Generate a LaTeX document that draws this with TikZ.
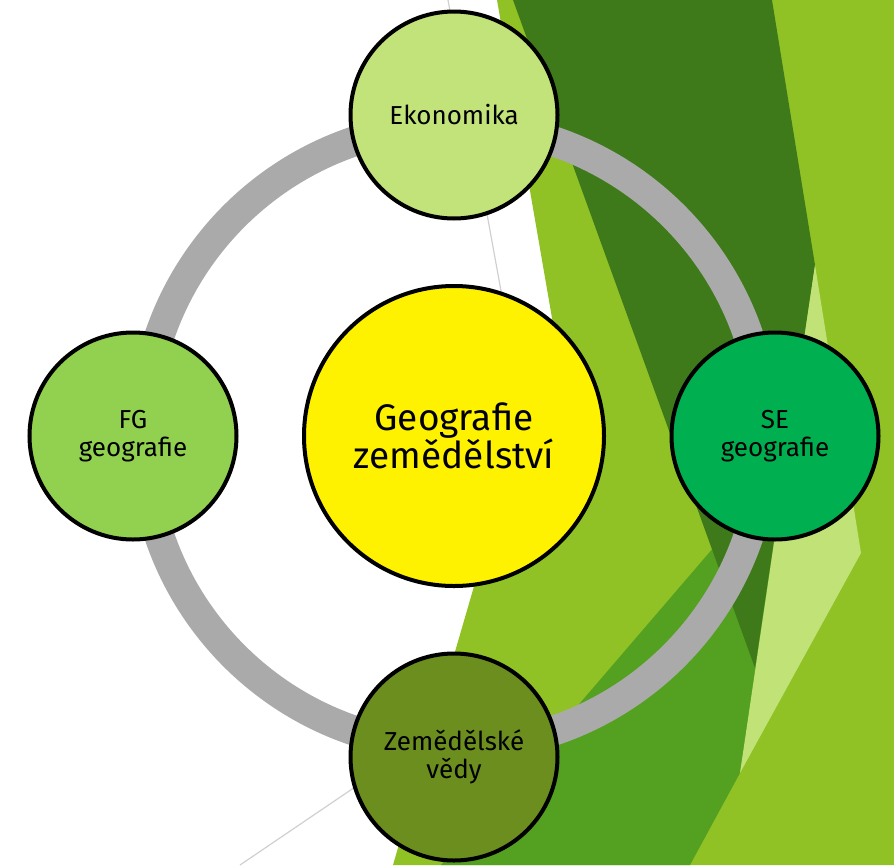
\documentclass[tikz,border=0pt]{standalone}
\usepackage{fontspec}
\setmainfont{Fira Sans}
\definecolor{facetgreen}{HTML}{90C226}
\definecolor{facetmid}{HTML}{54A021}
\definecolor{facetdark}{HTML}{3F7A1A}
\definecolor{facetlight}{HTML}{C0E277}
\definecolor{ringgray}{HTML}{AAAAAA}
\definecolor{thingray}{HTML}{D0D0D0}
\definecolor{ekonfill}{HTML}{C2E37A}
\definecolor{fgfill}{HTML}{92D050}
\definecolor{sefill}{HTML}{00B050}
\definecolor{zemfill}{HTML}{6B8E1E}

\begin{document}
\begin{tikzpicture}[x=1pt,y=-1pt]
\tikzset{bubble/.style={ %
		circle,
		draw=black,
		line width=4pt,
		minimum size=207pt,
		inner sep=0pt,
		align=center,
		font=\fontsize{26}{28}\selectfont,
		fill=#1
	}
}
\useasboundingbox (0,0) rectangle (894,865);
\clip (0,0) rectangle (894,865);
% thin theme lines
\draw[thingray, line width=1.2pt] (448,0) -- (530,450);
\draw[thingray, line width=1.2pt] (240,865) -- (420,743);
% green facets
\fill[facetgreen] (497,0) -- (894,0) -- (894,865) -- (393,865) -- (552,318) -- cycle;
\fill[facetmid] (441,865) -- (720,540) -- (780,540) -- (740,773) -- (690,865) -- cycle;
\fill[facetdark] (513,0) -- (772,0) -- (815,265) -- (755,668) -- cycle;
\fill[facetlight] (815,265) -- (861,553) -- (740,773) -- cycle;
% ring and circles
\coordinate (mid) at (454,436);
\draw[ringgray, line width=30pt] (mid) circle (311);
\node[bubble=yellow, minimum size=300pt, font=\fontsize{37}{35}\selectfont] (hub) at (mid) {Geografie\\zemědělství};
\node[bubble=ekonfill] (ekon) at (454,115) {Ekonomika};
\node[bubble=fgfill] (fg) at (133,436) {FG\\geografie};
\node[bubble=sefill] (se) at (775,436) {SE\\geografie};
\node[bubble=zemfill] (zem) at (454,757) {Zemědělské\\vědy};
\end{tikzpicture}
\end{document}
